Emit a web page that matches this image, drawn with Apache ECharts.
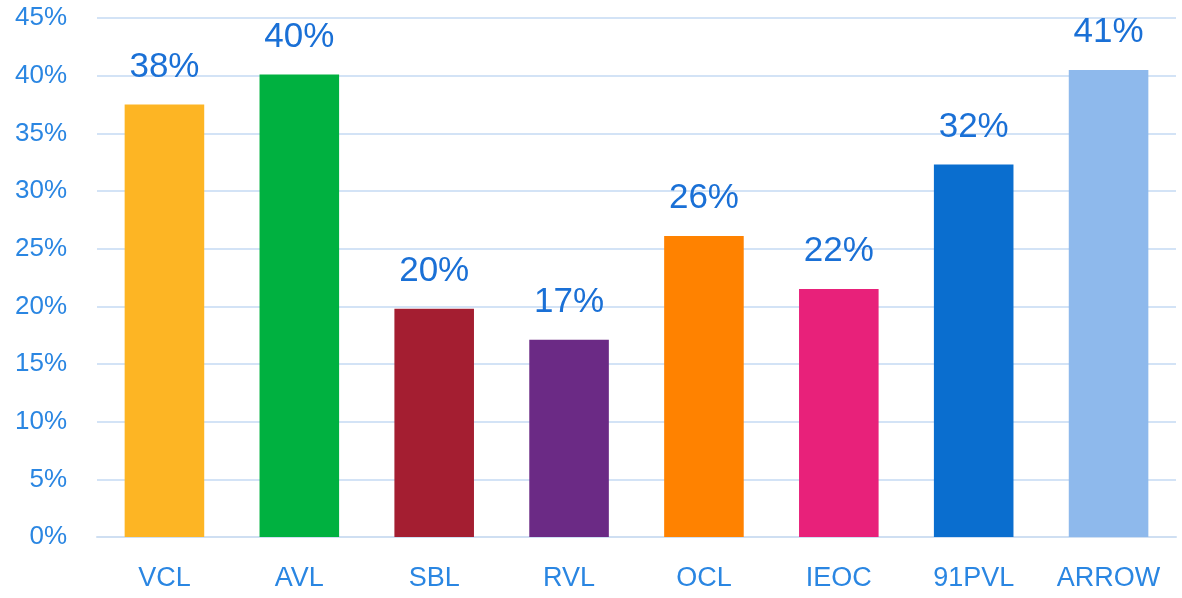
<!DOCTYPE html>
<html>
<head>
<meta charset="utf-8">
<script src="https://cdn.jsdelivr.net/npm/echarts@6/dist/echarts.min.js"></script>
<style>
  html, body { margin: 0; padding: 0; background: #fff; }
  #main { width: 1182px; height: 598px; }
</style>
</head>
<body>
<div id="main"></div>
<script>
var categories = ['VCL', 'AVL', 'SBL', 'RVL', 'OCL', 'IEOC', '91PVL', 'ARROW'];
var values = [37.5, 40.1, 19.8, 17.1, 26.1, 21.5, 32.3, 40.5];
var colors = ['#FDB524', '#00B140', '#A41E31', '#6B2A85', '#FF8200', '#E8217A', '#0A6ECF', '#8EB9EC'];

var option = {
    animation: false,
    grid: { left: 97, right: 6, top: 18, bottom: 61 },
    xAxis: {
        type: 'category',
        data: categories,
        axisTick: { show: false },
        axisLine: { lineStyle: { color: '#cfdff2', width: 2 } },
        axisLabel: { color: '#2a86e2', fontSize: 27, margin: 28, fontFamily: 'Liberation Sans' }
    },
    yAxis: {
        type: 'value',
        min: 0,
        max: 45,
        interval: 5,
        axisLabel: {
            color: '#2a86e2', fontSize: 26, margin: 30, fontFamily: 'Liberation Sans',
            formatter: function (v) { return v + '%'; }
        },
        splitLine: { lineStyle: { color: '#d3e3f6', width: 2 } }
    },
    series: [{
        type: 'bar',
        barWidth: '59%',
        data: values.map(function (v, i) {
            return { value: v, itemStyle: { color: colors[i] } };
        }),
        label: {
            show: true,
            position: 'top',
            distance: 20,
            color: '#1a70d6',
            fontSize: 35,
            fontFamily: 'Liberation Sans',
            formatter: function (p) { return Math.round(p.value) + '%'; }
        }
    }]
};

var myChart = echarts.init(document.getElementById('main'));
myChart.setOption(option);
</script>
</body>
</html>
